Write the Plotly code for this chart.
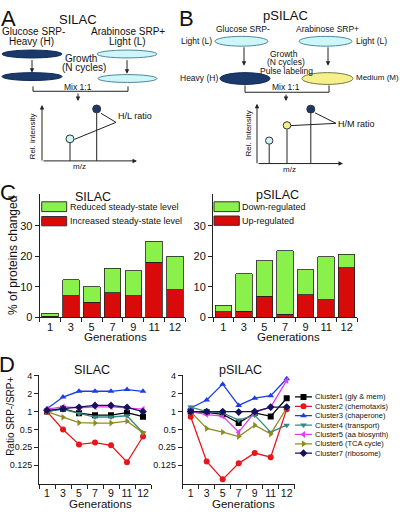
import plotly.graph_objects as go

# ---------------- data ----------------
generations = ["1", "3", "5", "7", "9", "11", "12"]

silac_increased = [0.3, 7.1, 4.9, 8.0, 7.1, 18.0, 9.0]
silac_reduced = [0.9, 5.1, 5.1, 8.0, 8.1, 6.9, 11.0]
psilac_up = [1.8, 1.9, 6.9, 1.0, 7.3, 5.7, 16.3]
psilac_down = [2.1, 12.3, 11.6, 20.8, 8.2, 14.1, 4.4]

bar_ticks = [0, 10, 20, 30]
ratio_ticks = [0.125, 0.25, 0.5, 1, 2, 4]
ratio_ticktext = ["0.125", "0.25", "0.5", "1", "2", "4"]

cluster_names = ["Cluster1 (gly & mem)", "Cluster2 (chemotaxis)", "Cluster3 (chaperone)",
                 "Cluster4 (transport)", "Cluster5 (aa biosynth)", "Cluster6 (TCA cycle)",
                 "Cluster7 (ribosome)"]
silac_c1 = [1.0, 1.12, 0.94, 0.87, 0.87, 0.96, 0.82]
silac_c2 = [1.0, 0.5, 0.28, 0.30, 0.27, 0.14, 0.38]
silac_c3 = [1.12, 1.76, 2.2, 2.2, 2.2, 2.35, 2.2]
silac_c4 = [1.02, 1.09, 0.93, 0.81, 0.81, 0.85, 0.44]
silac_c5 = [1.1, 1.2, 1.16, 1.2, 1.2, 1.15, 1.1]
silac_c6 = [1.0, 0.8, 0.65, 0.64, 0.64, 0.69, 0.44]
silac_c7 = [1.05, 1.12, 1.18, 1.27, 1.27, 1.18, 1.0]

psilac_c1 = [1.0, 0.97, 0.9, 0.64, 0.95, 0.83, 1.68]
psilac_c2 = [0.82, 0.144, 0.072, 0.134, 0.2, 0.17, 1.1]
psilac_c3 = [1.15, 1.57, 2.9, 1.27, 1.68, 1.85, 3.57]
psilac_c4 = [1.19, 1.0, 0.95, 0.72, 0.87, 0.45, 0.59]
psilac_c5 = [1.0, 0.89, 0.84, 0.45, 0.97, 1.19, 3.35]
psilac_c6 = [1.0, 0.52, 0.45, 0.38, 0.59, 0.42, 1.15]
psilac_c7 = [1.0, 1.0, 1.0, 0.98, 1.0, 1.19, 1.19]

silac_clusters = [silac_c1, silac_c2, silac_c3, silac_c4, silac_c5, silac_c6, silac_c7]
psilac_clusters = [psilac_c1, psilac_c2, psilac_c3, psilac_c4, psilac_c5, psilac_c6, psilac_c7]

# ---------------- styles ----------------
FONT = "Liberation Sans, Arial, sans-serif"
GREEN = "#8af04a"
RED = "#d80a0a"
NAVY = "#1b3a6b"
CYAN = "#cdf6f9"
YELLOW = "#f6f08c"
cluster_colors = ["#000000", "#e8151b", "#1a3de6", "#3c8585", "#e23ef0", "#8c8c1e", "#12125e"]
cluster_symbols = ["square", "circle", "triangle-up", "triangle-down", "triangle-left",
                   "triangle-right", "diamond"]

W, H = 400, 517


def X(p):
    return p / W


def Y(p):
    return 1 - p / H


shapes = []
annotations = []


def ell(x0, y0, x1, y1, fill, line="#3a5f80", w=1):
    shapes.append(dict(type="circle", xref="paper", yref="paper", x0=X(x0), x1=X(x1),
                       y0=Y(y1), y1=Y(y0), fillcolor=fill, line=dict(color=line, width=w)))


def circ(cx, cy, r, fill, line="#222"):
    ell(cx - r, cy - r, cx + r, cy + r, fill, line, 1)


def ln(x0, y0, x1, y1, color="#222", w=1):
    shapes.append(dict(type="line", xref="paper", yref="paper", x0=X(x0), y0=Y(y0),
                       x1=X(x1), y1=Y(y1), line=dict(color=color, width=w)))


def rect(x0, y0, x1, y1, fill):
    shapes.append(dict(type="rect", xref="paper", yref="paper", x0=X(x0), y0=Y(y1),
                       x1=X(x1), y1=Y(y0), fillcolor=fill, line=dict(color="#333", width=1)))


def txt(x, y, s, size, xanchor="center", angle=0, color="#111"):
    annotations.append(dict(x=X(x), y=Y(y), xref="paper", yref="paper", text=s,
                            showarrow=False, font=dict(size=size, family=FONT, color=color),
                            xanchor=xanchor, yanchor="middle", textangle=angle, borderpad=0))


def arrow(x0, y0, x1, y1):
    annotations.append(dict(x=X(x1), y=Y(y1), xref="paper", yref="paper", text="",
                            showarrow=True, ax=x0 - x1, ay=y0 - y1, axref="pixel", ayref="pixel",
                            arrowhead=2, arrowsize=0.9, arrowwidth=1, arrowcolor="#222",
                            standoff=0))


fig = go.Figure()

# ---------------- panel C: bars ----------------
fig.add_bar(x=generations, y=silac_increased, marker=dict(color=RED, line=dict(color="#222", width=0.8)),
            xaxis="x", yaxis="y", showlegend=False, width=0.8)
fig.add_bar(x=generations, y=silac_reduced, marker=dict(color=GREEN, line=dict(color="#222", width=0.8)),
            xaxis="x", yaxis="y", showlegend=False, width=0.8)
fig.add_bar(x=generations, y=psilac_up, marker=dict(color=RED, line=dict(color="#222", width=0.8)),
            xaxis="x2", yaxis="y2", showlegend=False, width=0.8)
fig.add_bar(x=generations, y=psilac_down, marker=dict(color=GREEN, line=dict(color="#222", width=0.8)),
            xaxis="x2", yaxis="y2", showlegend=False, width=0.8)

# ---------------- panel D: lines ----------------
for i in range(7):
    for vals, xa, ya in ((silac_clusters[i], "x3", "y3"), (psilac_clusters[i], "x4", "y4")):
        fig.add_scatter(x=generations, y=vals, mode="lines+markers", xaxis=xa, yaxis=ya,
                        line=dict(color=cluster_colors[i], width=1.3),
                        marker=dict(symbol=cluster_symbols[i], color=cluster_colors[i], size=6),
                        showlegend=False, name=cluster_names[i])

# legend samples for panel D (hidden axis)
for i in range(7):
    fig.add_scatter(x=[0, 0.5, 1], y=[i, i, i], mode="lines", xaxis="x5", yaxis="y5",
                    line=dict(color=cluster_colors[i], width=1.3), showlegend=False, hoverinfo="skip")
    fig.add_scatter(x=[0.5], y=[i], mode="markers", xaxis="x5", yaxis="y5",
                    marker=dict(symbol=cluster_symbols[i], color=cluster_colors[i], size=6),
                    showlegend=False, hoverinfo="skip")
    annotations.append(dict(x=X(314), y=i, xref="paper", yref="y5", text=cluster_names[i],
                            showarrow=False, xanchor="left", yanchor="middle",
                            font=dict(size=7.5, family=FONT, color="#111"), borderpad=0))

# ---------------- axes ----------------
tickfont = dict(size=11, family=FONT, color="#111")
common_x = dict(type="category", categoryorder="array", categoryarray=generations,
                range=[-0.5, 6.5], showline=True, linecolor="#222", linewidth=1,
                ticks="outside", tickson="boundaries", ticklen=4, tickcolor="#222",
                showgrid=False, zeroline=False, tickfont=tickfont, tickangle=0)
bar_y = dict(range=[0, 40.6], tickvals=bar_ticks, showline=True, linecolor="#222", linewidth=1,
             ticks="outside", ticklen=4, tickcolor="#222", showgrid=False, zeroline=False,
             tickfont=tickfont)
log_y = dict(type="log", range=[-1.213, 0.617], tickvals=ratio_ticks, ticktext=ratio_ticktext,
             showline=True, linecolor="#222", linewidth=1, ticks="outside", ticklen=4,
             tickcolor="#222", showgrid=False, zeroline=False,
             tickfont=dict(size=9, family=FONT, color="#111"))

bar_dom_y = [Y(319.3), Y(193.3)]
line_dom_y = [Y(489), Y(378.3)]

fig.update_layout(
    width=W, height=H, autosize=False,
    margin=dict(l=0, r=0, t=0, b=0),
    paper_bgcolor="white", plot_bgcolor="rgba(0,0,0,0)",
    barmode="stack",
    font=dict(family=FONT, color="#111"),
    xaxis=dict(common_x, domain=[X(39.6), X(185.4)], anchor="y"),
    yaxis=dict(bar_y, domain=bar_dom_y, anchor="x"),
    xaxis2=dict(common_x, domain=[X(213), X(357)], anchor="y2"),
    yaxis2=dict(bar_y, domain=bar_dom_y, anchor="x2"),
    xaxis3=dict(common_x, domain=[X(39), X(151)], anchor="y3",
                tickfont=dict(size=10.5, family=FONT, color="#111")),
    yaxis3=dict(log_y, domain=line_dom_y, anchor="x3"),
    xaxis4=dict(common_x, domain=[X(182.7), X(294.7)], anchor="y4",
                tickfont=dict(size=10.5, family=FONT, color="#111")),
    yaxis4=dict(log_y, domain=line_dom_y, anchor="x4"),
    xaxis5=dict(domain=[X(295), X(312)], range=[0, 1], visible=False, anchor="y5"),
    yaxis5=dict(domain=[Y(462.8), Y(395.9)], range=[6.5, -0.5], visible=False, anchor="x5"),
)

# ---------------- panel A ----------------
txt(8, 15, "A", 22)
txt(78, 16, "SILAC", 13)
txt(33, 28, "Glucose SRP-", 10)
txt(31, 38, "Heavy (H)", 10)
txt(128, 28, "Arabinose SRP+", 10)
txt(127, 38, "Light (L)", 10)
ell(2, 47, 62, 55, NAVY, "#0d2a55")
ell(97, 47, 157, 55, CYAN, "#4f86a3")
arrow(32, 56, 32, 70)
arrow(127, 56, 127, 71)
txt(81, 55.5, "Growth", 10)
txt(84, 65, "(N cycles)", 10)
ell(2, 70, 62, 78, NAVY, "#0d2a55")
ell(98, 72, 157, 80, CYAN, "#4f86a3")
ln(33, 84, 33, 89)
ln(33, 89, 128, 89)
ln(128, 84, 128, 89)
txt(78, 84.5, "Mix 1:1", 8.5)
arrow(78, 90, 78, 99)
arrow(42, 160, 42, 103)
arrow(42, 160, 137, 160)
txt(32, 135, "Rel. intensity", 8, angle=-90)
txt(79, 166, "m/z", 8)
ln(70, 141, 70, 160)
ln(96.7, 111, 96.7, 160)
circ(70, 137.5, 4, CYAN, "#333")
circ(96.7, 107, 4, NAVY, "#333")
ln(101, 111.5, 116, 120.7)
ln(74.5, 138, 116, 120.7)
txt(117, 114, "H/L ratio", 9, xanchor="left")

# ---------------- panel B ----------------
txt(186, 15, "B", 22)
txt(285, 12, "pSILAC", 13)
txt(243, 26, "Glucose SRP-", 8.5)
txt(327, 26, "Arabinose SRP+", 8.5)
txt(213, 37.5, "Light (L)", 8.5, xanchor="right")
ell(215, 33, 268, 43, CYAN, "#4f86a3")
ell(299, 33, 352, 43, CYAN, "#4f86a3")
txt(355, 37.5, "Light (L)", 8.5, xanchor="left")
arrow(244, 43, 244, 63)
arrow(328, 43, 328, 63)
txt(284, 51, "Growth", 8.5)
txt(286, 59.5, "(N cycles)", 8.5)
txt(286, 68, "Pulse labeling", 8.5)
txt(219, 75.5, "Heavy (H)", 8.5, xanchor="right")
ell(220, 70, 270, 82, NAVY, "#0d2a55")
ell(302, 70, 353, 82, YELLOW, "#77773a")
txt(355, 75, "Medium (M)", 8, xanchor="left")
ln(245, 83, 245, 90)
ln(245, 90, 329, 90)
ln(329, 83, 329, 90)
txt(286, 84.5, "Mix 1:1", 8.5)
arrow(286, 91, 286, 99)
arrow(257, 162.7, 257, 101.7)
arrow(257, 162.7, 343, 162.7)
txt(248, 132, "Rel. Intensity", 8, angle=-90)
txt(289, 169, "m/z", 8)
ln(269.2, 143, 269.2, 162.7)
ln(287, 127.8, 287, 162.7)
ln(310.8, 111.2, 310.8, 162.7)
circ(269.2, 139.3, 3.7, CYAN, "#333")
circ(287, 123.8, 3.8, YELLOW, "#333")
circ(310.8, 107.2, 4, NAVY, "#333")
ln(315, 111, 336, 121.7)
ln(291, 124, 336, 121.7)
txt(337, 122, "H/M ratio", 9, xanchor="left")

# ---------------- panel C decorations ----------------
txt(8, 192, "C", 22)
txt(93, 197, "SILAC", 12.5)
txt(277, 195, "pSILAC", 12.5)
rect(41.7, 201.7, 66.7, 211.7, GREEN)
rect(41.7, 216.7, 66.7, 226.2, RED)
txt(68.5, 206.7, "Reduced steady-state level", 9, xanchor="left")
txt(68.5, 221.5, "Increased steady-state level", 9, xanchor="left")
rect(214, 201.7, 239.3, 211.7, GREEN)
rect(214, 216.2, 239.3, 225.7, RED)
txt(241, 206.7, "Down-regulated", 9, xanchor="left")
txt(241, 221, "Up-regulated", 9, xanchor="left")
txt(13, 257, "% of proteins changed", 12, angle=-90)
txt(116, 340, "Generations", 11.5)
txt(288, 340, "Generations", 11.5)
annotations.append(dict(x=generations[-1], y=psilac_up[-1] + psilac_down[-1], xref="x2", yref="y2",
                        text="*", showarrow=False, yanchor="bottom", yshift=1,
                        font=dict(size=10, family=FONT, color="#111")))

# ---------------- panel D decorations ----------------
txt(7, 368, "D", 22)
txt(92, 373, "SILAC", 12.5)
txt(240, 373, "pSILAC", 12.5)
txt(11, 421, "Ratio SRP-/SRP+", 10, angle=-90)
txt(100, 510, "Generations", 11.5)
txt(243, 510, "Generations", 11.5)

fig.update_layout(shapes=shapes, annotations=annotations)

fig.write_html("out.html", config={"displayModeBar": False},
               post_script="document.body.style.margin='0';")
